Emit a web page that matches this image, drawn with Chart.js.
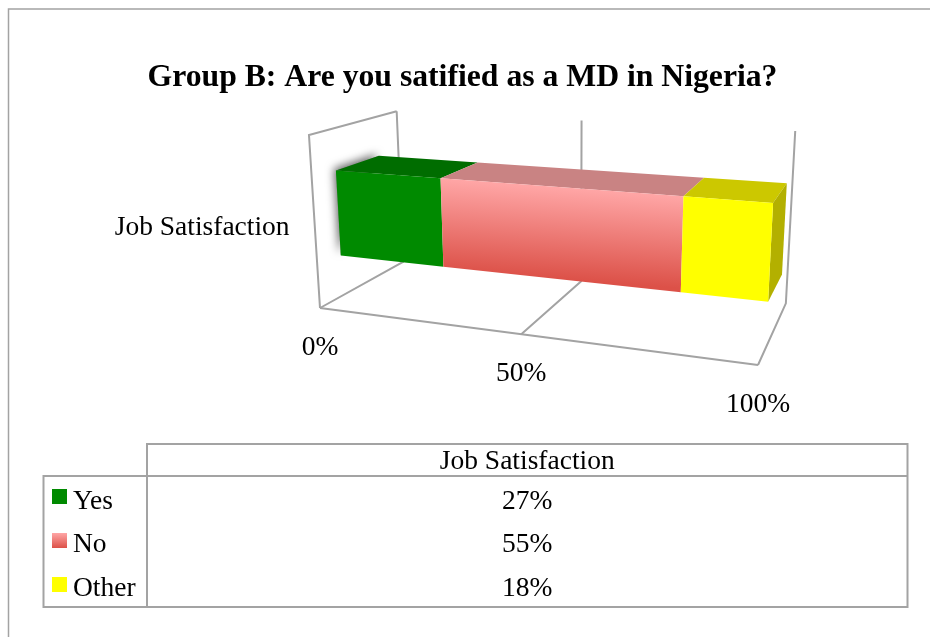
<!DOCTYPE html>
<html>
<head>
<meta charset="utf-8">
<title>Group B job satisfaction</title>
<script src="https://cdn.jsdelivr.net/npm/chart.js@4"></script>
<style>
    html, body { margin: 0; padding: 0; background: #fff; }
    canvas { display: block; }
</style>
</head>
<body>
<canvas id="grafico" width="930" height="637"></canvas>
<script>
const categories = ['Job Satisfaction'];
const seriesNames = ['Yes', 'No', 'Other'];
const yesValues = [27];
const noValues = [55];
const otherValues = [18];
const axisTicks = [0, 50, 100];

const SERIF = '"Liberation Serif", serif';
const GRID = '#a3a3a3';

// camara: t = a lo largo del eje, h = altura, d = profundidad (0..1 cada uno)
function project(t, h, d) {
    const w = 1 - 0.15 * t - 0.042 * h + 0.155 * d;
    return {
        x: (320 + 324.3 * t - 24 * h + 145.5 * d) / w,
        y: (308 + 2.25 * t - 178.7 * h - 5.4 * d) / w
    };
}

function poly(ctx, pts) {
    ctx.beginPath();
    pts.forEach((p, i) => i ? ctx.lineTo(p.x, p.y) : ctx.moveTo(p.x, p.y));
    ctx.closePath();
}

function stroke(ctx, pts) {
    ctx.beginPath();
    pts.forEach((p, i) => i ? ctx.lineTo(p.x, p.y) : ctx.moveTo(p.x, p.y));
    ctx.stroke();
}

// degradado perpendicular al borde superior de la cara frontal
function faceGradient(ctx, tl, tr, bl, br, c1, c2) {
    const top = { x: (tl.x + tr.x) / 2, y: (tl.y + tr.y) / 2 };
    const bot = { x: (bl.x + br.x) / 2, y: (bl.y + br.y) / 2 };
    const len = Math.hypot(tr.x - tl.x, tr.y - tl.y);
    const nx = -(tr.y - tl.y) / len, ny = (tr.x - tl.x) / len;
    const dist = (bot.x - top.x) * nx + (bot.y - top.y) * ny;
    const g = ctx.createLinearGradient(top.x, top.y, top.x + nx * dist, top.y + ny * dist);
    g.addColorStop(0, c1);
    g.addColorStop(1, c2);
    return g;
}

const faceColors = [
    { front: '#008a00', top: '#006d00' },
    { front: ['#ffa6a6', '#dc5148'], top: '#c98383' },
    { front: '#ffff00', top: '#ccc800', side: '#b3b000' }
];

const bar3d = {
    id: 'bar3d',
    beforeDraw(chart) {
        const ctx = chart.ctx;
        ctx.save();
        ctx.strokeStyle = GRID;
        ctx.lineWidth = 1.5;
        ctx.beginPath();
        ctx.moveTo(8.5, 637);
        ctx.lineTo(8.5, 9);
        ctx.lineTo(930, 9);
        ctx.stroke();
        ctx.restore();
    },
    beforeDatasetsDraw(chart) {
        const ctx = chart.ctx;
        const area = chart.chartArea;
        const xs = chart.scales.x;
        const toT = px => (px - area.left) / (area.right - area.left);
        const toH = py => (area.bottom - py) / (area.bottom - area.top);
        const D1 = 0.25, D2 = 0.75;

        ctx.save();
        ctx.strokeStyle = GRID;
        ctx.lineWidth = 2;
        ctx.lineJoin = 'miter';

        // paredes y suelo
        axisTicks.forEach(v => {
            const t = toT(xs.getPixelForValue(v));
            stroke(ctx, [project(t, 1, 1), project(t, 0, 1), project(t, 0, 0)]);
        });
        stroke(ctx, [project(0, 0, 0), project(0, 1, 0), project(0, 1, 1)]);
        stroke(ctx, [project(0, 0, 0), project(1, 0, 0)]);

        const segs = chart.getSortedVisibleDatasetMetas().map(meta => {
            const el = meta.data[0].getProps(['x', 'y', 'base', 'height'], true);
            return {
                t1: toT(el.base),
                t2: toT(el.x),
                h1: toH(el.y + el.height / 2),
                h2: toH(el.y - el.height / 2)
            };
        });

        // sombra del extremo izquierdo
        const s0 = segs[0];
        ctx.save();
        ctx.shadowColor = 'rgba(0,0,0,0.6)';
        ctx.shadowBlur = 9;
        ctx.shadowOffsetX = -2;
        ctx.shadowOffsetY = -2;
        ctx.fillStyle = '#888';
        poly(ctx, [project(s0.t1, s0.h2, D1), project(s0.t1, s0.h2, D2), project(s0.t1, s0.h1, D1)]);
        ctx.fill();
        ctx.restore();

        segs.forEach((s, i) => {
            const c = faceColors[i];
            const tl = project(s.t1, s.h2, D1), tr = project(s.t2, s.h2, D1);
            const bl = project(s.t1, s.h1, D1), br = project(s.t2, s.h1, D1);
            ctx.fillStyle = c.top;
            poly(ctx, [tl, tr, project(s.t2, s.h2, D2), project(s.t1, s.h2, D2)]);
            ctx.fill();
            if (c.side) {
                ctx.fillStyle = c.side;
                poly(ctx, [tr, br, project(s.t2, s.h1, D2), project(s.t2, s.h2, D2)]);
                ctx.fill();
            }
            ctx.fillStyle = Array.isArray(c.front)
                ? faceGradient(ctx, tl, tr, bl, br, c.front[0], c.front[1])
                : c.front;
            poly(ctx, [tl, tr, br, bl]);
            ctx.fill();
        });

        // etiquetas de los ejes
        ctx.fillStyle = '#000';
        ctx.font = '27.5px ' + SERIF;
        ctx.textBaseline = 'middle';
        ctx.textAlign = 'center';
        axisTicks.forEach(v => {
            const p = project(toT(xs.getPixelForValue(v)), 0, 0);
            ctx.fillText(v + '%', p.x, p.y + 40);
        });
        const lab = project(0, toH(chart.scales.y.getPixelForValue(0)), 0);
        ctx.textAlign = 'right';
        ctx.fillText(categories[0], lab.x - 25, lab.y + 4);

        ctx.restore();
        return false;
    },
    afterDraw(chart) {
        const ctx = chart.ctx;
        const L = 43.5, M = 147, R = 907.5, T0 = 444, T1 = 476, B = 607;
        const rows = [yesValues, noValues, otherValues];
        const rowY = [502, 545, 589];
        const swatchY = [489, 533, 577];

        ctx.save();
        ctx.strokeStyle = GRID;
        ctx.lineWidth = 2;
        ctx.beginPath();
        ctx.moveTo(M, T1);
        ctx.lineTo(M, T0);
        ctx.lineTo(R, T0);
        ctx.lineTo(R, T1);
        ctx.moveTo(L, T1);
        ctx.lineTo(R, T1);
        ctx.lineTo(R, B);
        ctx.lineTo(L, B);
        ctx.closePath();
        ctx.moveTo(M, T1);
        ctx.lineTo(M, B);
        ctx.stroke();

        ctx.fillStyle = '#000';
        ctx.font = '27.5px ' + SERIF;
        ctx.textBaseline = 'middle';
        ctx.textAlign = 'center';
        const mid = (M + R) / 2;
        ctx.fillText(categories[0], mid, 462);
        rows.forEach((r, i) => ctx.fillText(r[0] + '%', mid, rowY[i]));

        ctx.textAlign = 'left';
        seriesNames.forEach((name, i) => {
            const c = faceColors[i].front;
            if (Array.isArray(c)) {
                const g = ctx.createLinearGradient(0, swatchY[i], 0, swatchY[i] + 15);
                g.addColorStop(0, c[0]);
                g.addColorStop(1, c[1]);
                ctx.fillStyle = g;
            } else {
                ctx.fillStyle = c;
            }
            ctx.fillRect(52, swatchY[i], 15, 15);
            ctx.fillStyle = '#000';
            ctx.fillText(name, 73, rowY[i]);
        });
        ctx.restore();
    }
};

const grafico = new Chart(document.getElementById('grafico'), {
    type: 'bar',
    data: {
        labels: categories,
        datasets: [
            { label: seriesNames[0], data: yesValues, backgroundColor: '#008a00' },
            { label: seriesNames[1], data: noValues, backgroundColor: '#ffa6a6' },
            { label: seriesNames[2], data: otherValues, backgroundColor: '#ffff00' }
        ]
    },
    options: {
        indexAxis: 'y',
        responsive: false,
        animation: false,
        layout: { padding: { right: 5 } },
        datasets: { bar: { barPercentage: 0.51, categoryPercentage: 1 } },
        plugins: {
            legend: { display: false },
            tooltip: { enabled: false },
            title: {
                display: true,
                text: 'Group B: Are you satified as a MD in Nigeria?',
                color: '#000',
                font: { family: SERIF, size: 31.7, weight: 'bold' },
                padding: { top: 59, bottom: 10 }
            }
        },
        scales: {
            x: { stacked: true, min: 0, max: 100, display: false },
            y: { stacked: true, display: false }
        }
    },
    plugins: [bar3d]
});
</script>
</body>
</html>
